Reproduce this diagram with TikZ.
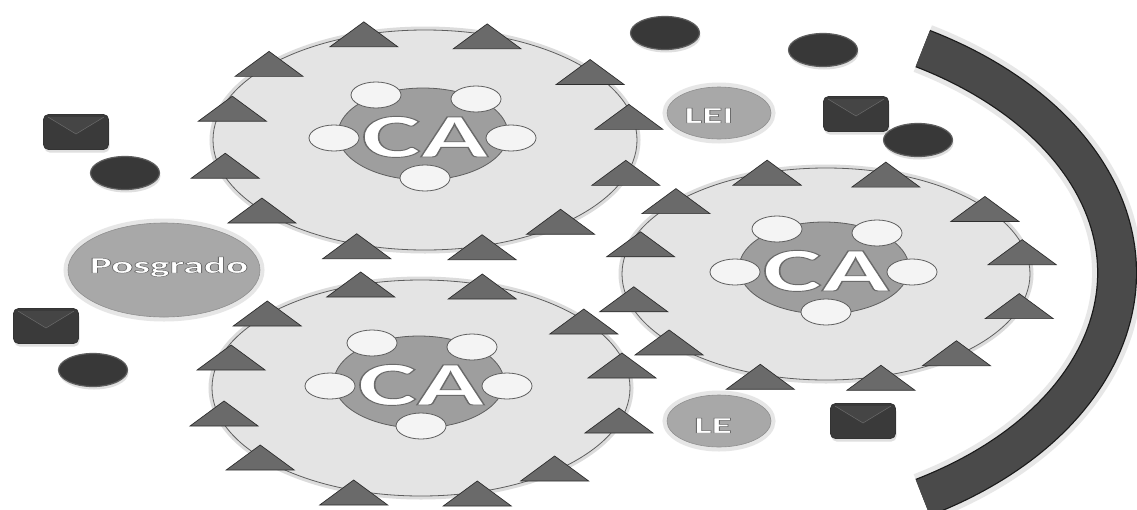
\documentclass[tikz,border=0pt]{standalone}
\usepackage{fontspec}
\usepackage{graphicx}
\setmainfont{Carlito}
\usetikzlibrary{shapes.geometric,calc,shadows}
\definecolor{bigfill}{HTML}{E4E4E4}
\definecolor{bigedge}{HTML}{5E5E5E}
\definecolor{halo}{HTML}{DCDCDC}
\definecolor{innerfill}{HTML}{9E9E9E}
\definecolor{smallfill}{HTML}{F4F4F4}
\definecolor{trifill}{HTML}{6A6A6A}
\definecolor{triedge}{HTML}{2E2E2E}
\definecolor{dotfill}{HTML}{383838}
\definecolor{dotedge}{HTML}{5E5E5E}
\definecolor{boxfill}{HTML}{3A3A3A}
\definecolor{boxtop}{HTML}{454545}
\definecolor{labfill}{HTML}{A8A8A8}
\definecolor{labhalo}{HTML}{E6E6E6}
\definecolor{arcfill}{HTML}{4A4A4A}
\definecolor{arcedge}{HTML}{1A1A1A}
\tikzset{
  bigc/.style={ellipse, inner sep=0pt, fill=bigfill, draw=bigedge, line width=0.8pt,
    preaction={draw=halo, line width=7pt}},
  innerc/.style={ellipse, inner sep=0pt, minimum width=170pt, minimum height=92pt,
    fill=innerfill, draw=bigedge, line width=0.8pt},
  smallc/.style={ellipse, inner sep=0pt, minimum width=50pt, minimum height=26pt,
    fill=smallfill, draw=bigedge, line width=0.8pt},
  tri/.style={fill=trifill, draw=triedge, line width=0.7pt, line join=miter},
  dot/.style={ellipse, inner sep=0pt, minimum width=69pt, minimum height=33pt,
    fill=dotfill, draw=dotedge, line width=1.2pt,
    drop shadow={shadow xshift=1pt, shadow yshift=-3pt, opacity=0.25}},
  boxicon/.style={rectangle, rounded corners=5pt, inner sep=0pt, minimum width=65pt,
    minimum height=35pt, fill=boxfill, draw=black!80, line width=0.8pt,
    drop shadow={shadow xshift=1pt, shadow yshift=-3pt, opacity=0.25}},
  labc/.style={ellipse, inner sep=0pt, fill=labfill, draw=labfill!85!black, line width=0.6pt,
    preaction={draw=labhalo, line width=9pt}},
  lblsty/.style={anchor=base, inner sep=0pt, font=\bfseries, text=white},
}
% outlined white label: #1 name, #2 x, #3 baseline y, #4 size, #5 outline width, #6 text
\newcommand{\lbltext}[6]{%
  \node[lblsty] (#1) at (#2,#3) {\fontsize{#4}{#4}\selectfont
    \special{pdf:literal direct 0.42 G #5 w 2 Tr}\scalebox{1.8}[1]{#6}\special{pdf:literal direct 0 Tr}};
}
% body of a CA circle: #1 name, #2 x, #3 y, #4 width, #5 height
\newcommand{\cabody}[5]{%
  \node[bigc, minimum width=#4pt, minimum height=#5pt] (#1) at (#2,#3) {};
  \node[innerc] (#1in) at (#2-2,#3-6) {};
  \node[smallc] (#1tl) at ($(#1in)+(-47,-39)$) {};
  \node[smallc] (#1tr) at ($(#1in)+(53,-35)$) {};
  \node[smallc] (#1l) at ($(#1in)+(-89,4)$) {};
  \node[smallc] (#1r) at ($(#1in)+(88,4)$) {};
  \node[smallc] (#1b) at ($(#1in)+(2,44)$) {};
  \lbltext{#1txt}{#2}{#3+17}{62pt}{0.9}{CA}
}
% triangles of a CA circle: #1 x, #2 y, #3 width, #4 height
\newcommand{\catris}[4]{%
  \foreach \ox/\oy in {-60/-116,61/-114,-153/-87,162/-79,-189/-43,200/-35,-196/13,197/20,-160/57,133/68,-67/92,56/93}
    \draw[tri] (#1+\ox/416*#3,#2+\oy/216*#4) -- ++(34,25) -- ++(-68,0) -- cycle;
}
\begin{document}
\begin{tikzpicture}[x=1pt,y=-1pt]
\useasboundingbox (0,0) rectangle (1137,509);
\fill[white] (0,0) rectangle (1137,509);

% large arc band on the right
\coordinate (arcstart) at (922.8,497.5);
\draw[halo!70, line width=50pt] (arcstart) arc[start angle=59.7, end angle=-59.7, x radius=392, y radius=260];
\draw[arcedge, line width=40pt] (arcstart) arc[start angle=59.7, end angle=-59.7, x radius=392, y radius=260];
\draw[arcfill, line width=37.5pt] (arcstart) arc[start angle=59.7, end angle=-59.7, x radius=392, y radius=260];

% labelled circles
\node[labc, minimum width=192pt, minimum height=94pt] (posgrado) at (164,270) {};
\lbltext{posgradotxt}{169}{273}{23pt}{0.45}{Posgrado}
\node[labc, minimum width=104pt, minimum height=52pt] (lei) at (719,113) {};
\lbltext{leitxt}{709}{123}{23pt}{0.45}{LEI}
\node[labc, minimum width=104pt, minimum height=52pt] (le) at (719,421) {};
\lbltext{letxt}{713}{433}{23pt}{0.45}{LE}

% dark dots
\node[dot] (dot1) at (665,33) {};
\node[dot] (dot2) at (823,50) {};
\node[dot] (dot3) at (918,140) {};
\node[dot] (dot4) at (125,173) {};
\node[dot] (dot5) at (93,370) {};

% dark boxes
\foreach \nm/\bx/\by in {box1/76/132, box2/46/326, box3/856/114, box4/863/421}{
  \node[boxicon] (\nm) at (\bx,\by) {};
  \fill[boxtop] ($(\nm.north west)+(5,3)$) -- ($(\nm.north east)+(-5,3)$) -- ($(\nm.center)+(0,2)$) -- cycle;
  \draw[white!25!boxfill, line width=0.5pt] ($(\nm.north west)+(5,3)$) -- ($(\nm.center)+(0,2)$) -- ($(\nm.north east)+(-5,3)$);
}

% CA circles
\cabody{caA}{425}{140}{424}{220}
\cabody{caB}{826}{274}{408}{212}
\cabody{caC}{421}{388}{418}{216}

\catris{425}{140}{424}{220}
\catris{826}{274}{408}{212}
\catris{421}{388}{418}{216}
\end{tikzpicture}
\end{document}
